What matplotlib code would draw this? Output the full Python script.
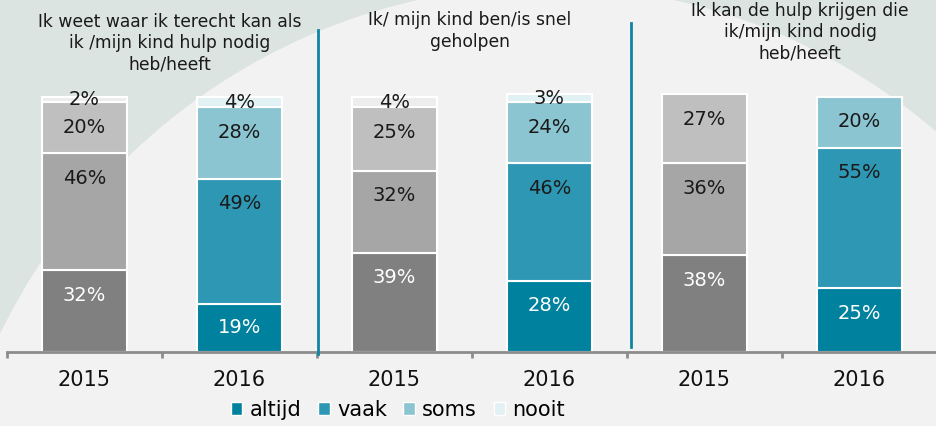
import matplotlib.pyplot as plt
from matplotlib.patches import Ellipse, Patch
from matplotlib.lines import Line2D

# data: three statements, 2015 vs 2016, stacked percentages
years = ['2015', '2016', '2015', '2016', '2015', '2016']
series = ['altijd', 'vaak', 'soms', 'nooit']
altijd = [32, 19, 39, 28, 38, 25]
vaak = [46, 49, 32, 46, 36, 55]
soms = [20, 28, 25, 24, 27, 20]
nooit = [2, 4, 4, 3, 0, 0]
titles = ['Ik weet waar ik terecht kan als\nik /mijn kind hulp nodig\nheb/heeft',
          'Ik/ mijn kind ben/is snel\ngeholpen',
          'Ik kan de hulp krijgen die\nik/mijn kind nodig\nheb/heeft']

grey = ['#808080', '#A6A6A6', '#BFBFBF', '#EDEDED']
teal = ['#00819E', '#2E98B4', '#8BC5D2', '#E1F1F4']
text_col = ['white', '#1A1A1A', '#1A1A1A', '#1A1A1A']

W, H = 937, 426
fig = plt.figure(figsize=(W / 100, H / 100), dpi=100, facecolor='#DCE4E1')

# light background swoosh
fig.add_artist(Ellipse((546 / W, 1 - 620 / H), 2 * 612 / W, 2 * 634 / H,
                       transform=fig.transFigure, facecolor='#F2F2F2',
                       edgecolor='none', zorder=-1))

ax = fig.add_axes([7 / W, 74 / H, 930 / W, 332 / H])
ax.set_facecolor('none')

data = [altijd, vaak, soms, nooit]
x = list(range(len(years)))
bottoms = [0] * len(years)
for k, vals in enumerate(data):
    for i, v in enumerate(vals):
        if v == 0:
            continue
        pal = grey if years[i] == '2015' else teal
        ax.bar(x[i], v, bottom=bottoms[i], width=0.545, color=pal[k],
               edgecolor='white', linewidth=1.5, zorder=2)
        top = bottoms[i] + v
        ax.text(x[i], top - min(v / 2, 9.8), f'{v}%', ha='center', va='center',
                fontsize=14, color=text_col[k], zorder=3)
        bottoms[i] = top

ax.set_xlim(-0.5, 5.436)
ax.set_ylim(0, 130.2)
for s in ['top', 'right', 'left']:
    ax.spines[s].set_visible(False)
ax.spines['bottom'].set_color('#8C8C8C')
ax.spines['bottom'].set_linewidth(2)
ax.set_yticks([])
ax.set_xticks(x)
ax.set_xticklabels(years)
ax.set_xticks([i - 0.5 for i in range(7)], minor=True)
ax.tick_params(axis='x', which='major', length=0, labelsize=15, pad=13, labelcolor='#111111')
ax.tick_params(axis='x', which='minor', length=4, width=2, color='#8C8C8C')

# titles and dividers
title_pos = [(170, 43), (470, 31), (800, 32)]
for t, (px, py) in zip(titles, title_pos):
    fig.text(px / W, 1 - py / H, t, ha='center', va='center', fontsize=12.3,
             linespacing=1.22, color='#1A1A1A')
for px, y0, y1 in [(318, 30, 354), (631, 23, 347)]:
    fig.add_artist(Line2D([px / W, px / W], [1 - y0 / H, 1 - y1 / H],
                          transform=fig.transFigure, color='#0E86A0', lw=2))

handles = [Patch(facecolor=teal[k], edgecolor='white', label=series[k]) for k in range(4)]
fig.legend(handles=handles, loc='center', bbox_to_anchor=(398 / W, 1 - 410 / H), ncol=4,
           frameon=False, fontsize=15, handlelength=0.55, handleheight=0.55,
           handletextpad=0.35, columnspacing=0.8, borderaxespad=0)

fig.savefig('out.png', dpi=100, facecolor=fig.get_facecolor())
